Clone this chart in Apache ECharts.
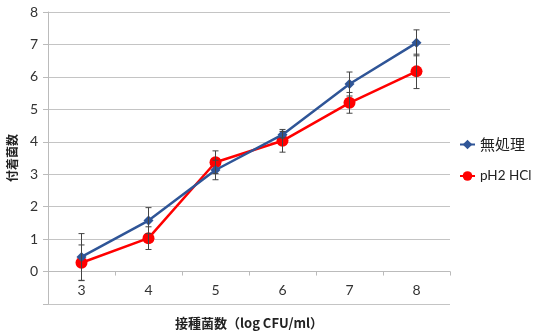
<!DOCTYPE html>
<html><head><meta charset="utf-8">
<script src="https://cdn.jsdelivr.net/npm/echarts@6/dist/echarts.min.js"></script>
<style>html,body{margin:0;padding:0;background:#fff}#c{width:534px;height:331px}</style>
</head><body><div id="c"></div>
<script>
const categories = ['3','4','5','6','7','8'];
const untreated = [0.45, 1.57, 3.13, 4.22, 5.78, 7.05];
const untreatedErr = [0.72, 0.40, 0.30, 0.10, 0.37, 0.40];
const hcl = [0.27, 1.03, 3.37, 4.03, 5.20, 6.17];
const hclErr = [0.55, 0.35, 0.35, 0.35, 0.32, 0.53];
const yTicks = [-1, 0, 1, 2, 3, 4, 5, 6, 7, 8];

function errData(vals, errs){ return vals.map((v,i)=>[i, v-errs[i], v+errs[i]]); }
function errRender(params, api){
  const x = api.value(0);
  const lo = api.coord([x, api.value(1)]);
  const hi = api.coord([x, api.value(2)]);
  const w = 3;
  const st = {stroke:'#444', lineWidth:1};
  return {type:'group', children:[
    {type:'line', shape:{x1:lo[0],y1:lo[1],x2:hi[0],y2:hi[1]}, style:st},
    {type:'line', shape:{x1:lo[0]-w,y1:lo[1],x2:lo[0]+w,y2:lo[1]}, style:st},
    {type:'line', shape:{x1:hi[0]-w,y1:hi[1],x2:hi[0]+w,y2:hi[1]}, style:st}
  ]};
}
const gridTop = 12, gridBottom = 27, H = 331;
const plotH = H - gridTop - gridBottom;
const zeroOffset = -plotH * (0 - yTicks[0]) / (yTicks[yTicks.length-1] - yTicks[0]);
const chart = echarts.init(document.getElementById('c'));
chart.setOption({
  animation:false,
  grid:{left:48, right:84, top:gridTop, bottom:gridBottom, containLabel:false, outerBoundsMode:'none'},
  legend:{orient:'vertical', left:459, top:137, padding:0, itemGap:17, itemWidth:15, itemHeight:12,
    formatter: n => /^[\x00-\x7F]+$/.test(n) ? '{l|' + n + '}' : '{c|' + n + '}',
    textStyle:{color:'#222', overflow:'none',
      rich:{c:{fontSize:15, fontFamily:'Noto Sans CJK JP', color:'#222'},
            l:{fontSize:13.5, fontFamily:'Lato', color:'#222'}}},
    data:['無処理','pH2 HCl']},
  xAxis:{type:'category', data:categories, boundaryGap:true, offset:zeroOffset,
    axisLine:{onZero:false, lineStyle:{color:'#bbb', width:1}},
    axisTick:{show:true, length:4, lineStyle:{color:'#bbb'}},
    axisLabel:{fontSize:14, color:'#333', margin:12, fontFamily:'Lato'},
    name:'接種菌数（log CFU/ml）', nameLocation:'middle', nameGap:45,
    nameTextStyle:{fontSize:13, color:'#222', fontFamily:'Noto Sans CJK JP', fontWeight:'bold'}},
  yAxis:{type:'value', min:yTicks[0], max:yTicks[yTicks.length-1], interval:1,
    axisLine:{show:true, lineStyle:{color:'#bbb'}},
    axisTick:{show:true, length:5, lineStyle:{color:'#bbb'}},
    splitLine:{lineStyle:{color:'#c4c4c4', width:1}},
    axisLabel:{fontSize:14, color:'#333', margin:10, fontFamily:'Lato',
      formatter:v=> v<0 ? '' : String(v)},
    name:'付着菌数', nameLocation:'middle', nameGap:30, nameRotate:90,
    nameTextStyle:{fontSize:12, color:'#222', fontFamily:'Noto Sans CJK JP', fontWeight:'bold'}},
  series:[
    {name:'無処理', type:'line', data:untreated, symbol:'diamond', symbolSize:10,
      lineStyle:{color:'#2F5597', width:2.5}, itemStyle:{color:'#2F5597'}, z:3},
    {name:'pH2 HCl', type:'line', data:hcl, symbol:'circle', symbolSize:12,
      lineStyle:{color:'#FF0000', width:2.5}, itemStyle:{color:'#FF0000'}, z:2},
    {type:'custom', renderItem:errRender, data:errData(untreated, untreatedErr), z:5, silent:true},
    {type:'custom', renderItem:errRender, data:errData(hcl, hclErr), z:5, silent:true}
  ]
});
</script></body></html>
